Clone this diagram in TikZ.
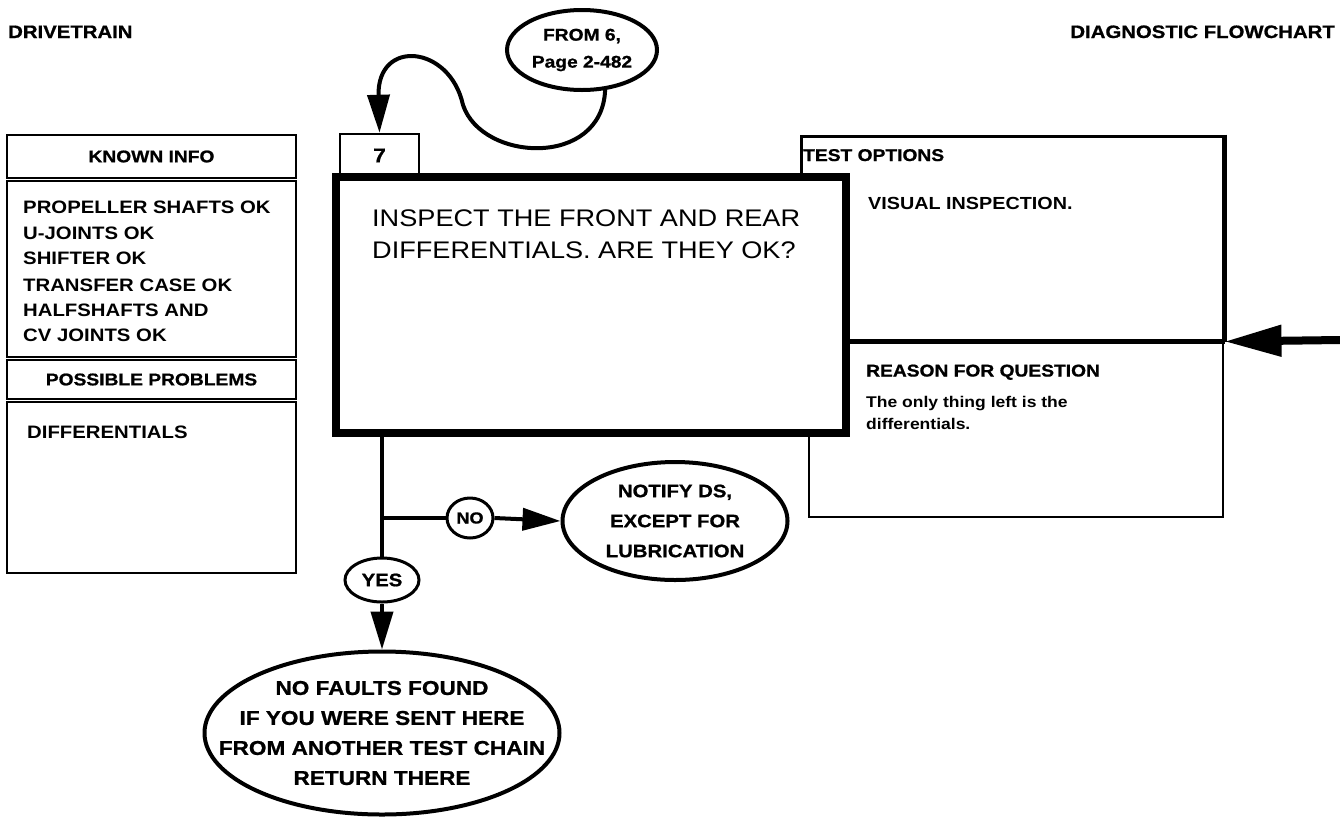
\documentclass[tikz,border=0pt]{standalone}
\usepackage{fontspec}
\setmainfont{Liberation Sans}[FakeStretch=1.13]
\newfontfamily\heavy{Liberation Sans Bold}[FakeStretch=1.13, FakeBold=0.9]
\usetikzlibrary{arrows.meta,shapes.geometric}
\newcommand\fsz[2]{\fontsize{#1pt}{#2pt}\selectfont}
\begin{document}
\begin{tikzpicture}[x=1pt,y=-1pt,
  rbox/.style={draw, line width=2.5pt, inner sep=0pt},
  oval/.style={draw, ellipse, line width=4pt, inner sep=0pt},
  ovtext/.style={inner sep=0pt, align=center, font=\heavy\fsz{18}{30}},
  lbl/.style={anchor=base west, inner sep=0pt, font=\bfseries\fsz{18}{22}},
  hdr/.style={inner sep=0pt, font=\heavy\fsz{17}{20}},
  title/.style={inner sep=0pt, font=\heavy\fsz{18}{22}},
  conn/.style={line width=4pt},
  arr/.style={line width=4pt, -{Triangle[length=38pt,width=22pt]}},
]
\useasboundingbox (0,0) rectangle (1340,820);

% titles
\node[title, anchor=base west] (t1) at (8,38) {DRIVETRAIN};
\node[title, anchor=base east] (t2) at (1335,38) {DIAGNOSTIC FLOWCHART};

% left panel
\node[rbox, minimum width=289pt, minimum height=43pt] (kh) at (151.5,156.5) {};
\node[hdr] (khT) at (kh.center) {KNOWN INFO};
\node[rbox, minimum width=289pt, minimum height=176pt] (kb) at (151.5,269) {};
\node[rbox, minimum width=289pt, minimum height=39pt] (ph) at (151.5,379.5) {};
\node[hdr] (phT) at (ph.center) {POSSIBLE PROBLEMS};
\node[rbox, minimum width=289pt, minimum height=171pt] (pb) at (151.5,487.5) {};

\node[lbl] (k1) at (23,213.5) {PROPELLER SHAFTS OK};
\node[lbl] (k2) at (23,239.5) {U-JOINTS OK};
\node[lbl] (k3) at (23,264.5) {SHIFTER OK};
\node[lbl] (k4) at (23,291) {TRANSFER CASE OK};
\node[lbl] (k5) at (23,316) {HALFSHAFTS AND};
\node[lbl] (k6) at (23,341) {CV JOINTS OK};
\node[lbl] (p1) at (27,438.5) {DIFFERENTIALS};

% test options / reason boxes
\node[rbox, line width=3pt, minimum width=422pt, minimum height=204pt] (tu) at (1012,238) {};
\node[rbox, minimum width=414pt, minimum height=177pt] (tl) at (1016,428.5) {};

% step number box and main question box
\node[rbox, minimum width=79pt, minimum height=43pt] (seven) at (379.5,155.5) {};
\node[inner sep=0pt, font=\heavy\fsz{20}{24}] (sevenT) at (seven.center) {7};
\node[draw, fill=white, line width=8pt, inner sep=0pt, minimum width=510pt, minimum height=256pt] (main) at (591,305) {};
\draw[line width=5pt] (main.east |- tu.south) -- (tu.south east);
\draw[line width=4.5pt] (tu.north east) -- (tu.south east);

\node[anchor=base west, inner sep=0pt, font=\fsz{24}{30}] (q1) at (372,226.5) {INSPECT THE FRONT AND REAR};
\node[anchor=base west, inner sep=0pt, font=\fsz{24}{30}] (q2) at (372,258.5) {DIFFERENTIALS. ARE THEY OK?};

\node[hdr, anchor=base west] (toT) at (803,161) {TEST OPTIONS};
\node[lbl, font=\bfseries\fsz{17.5}{20}] (vis) at (868,209.5) {VISUAL INSPECTION.};
\node[hdr, anchor=base west] (rqT) at (866,376.5) {REASON FOR QUESTION};
\node[lbl, font=\bfseries\fsz{15.5}{20}] (r1) at (866,407) {The only thing left is the};
\node[lbl, font=\bfseries\fsz{15.5}{20}] (r2) at (866,429) {differentials.};

% ovals
\node[oval, minimum width=150pt, minimum height=80pt] (from) at (582,50) {};
\node[ovtext, font=\heavy\fsz{17}{27}] (fromT) at (from.center) {FROM 6,\\Page 2-482};
\node[oval, line width=3pt, minimum width=46pt, minimum height=40pt] (no) at (470,518) {};
\node[ovtext, font=\heavy\fsz{16}{20}] (noT) at (no.center) {NO};
\node[oval, minimum width=225pt, minimum height=118pt] (notify) at (675,521) {};
\node[ovtext] (notifyT) at (notify.center) {NOTIFY DS,\\EXCEPT FOR\\LUBRICATION};
\node[oval, line width=3pt, minimum width=74pt, minimum height=44pt] (yes) at (382,580) {};
\node[ovtext, font=\heavy\fsz{18}{20}] (yesT) at (yes.center) {YES};
\node[oval, minimum width=355pt, minimum height=163pt] (fin) at (382,733) {};
\node[ovtext, font=\heavy\fsz{20}{30}] (finT) at (fin.center) {NO FAULTS FOUND\\IF YOU WERE SENT HERE\\FROM ANOTHER TEST CHAIN\\RETURN THERE};

% connectors
\draw[arr] (from.300) .. controls (602,168) and (482,162) .. (463,105) .. controls (450,45) and (377,38) .. (seven.north);
\coordinate (br) at (yes.north |- no.west);
\draw[conn] (main.south -| yes.north) -- (yes.north);
\draw[conn] (br) -- (no.west);
\draw[arr] (no.east) -- (notify.west);
\draw[arr] (yes.south) -- (fin.north);
\coordinate (rin) at (1340,340);
\draw[line width=8pt, -{Triangle[length=57pt,width=30pt]}] (rin) -- (tu.south east);
\end{tikzpicture}
\end{document}
